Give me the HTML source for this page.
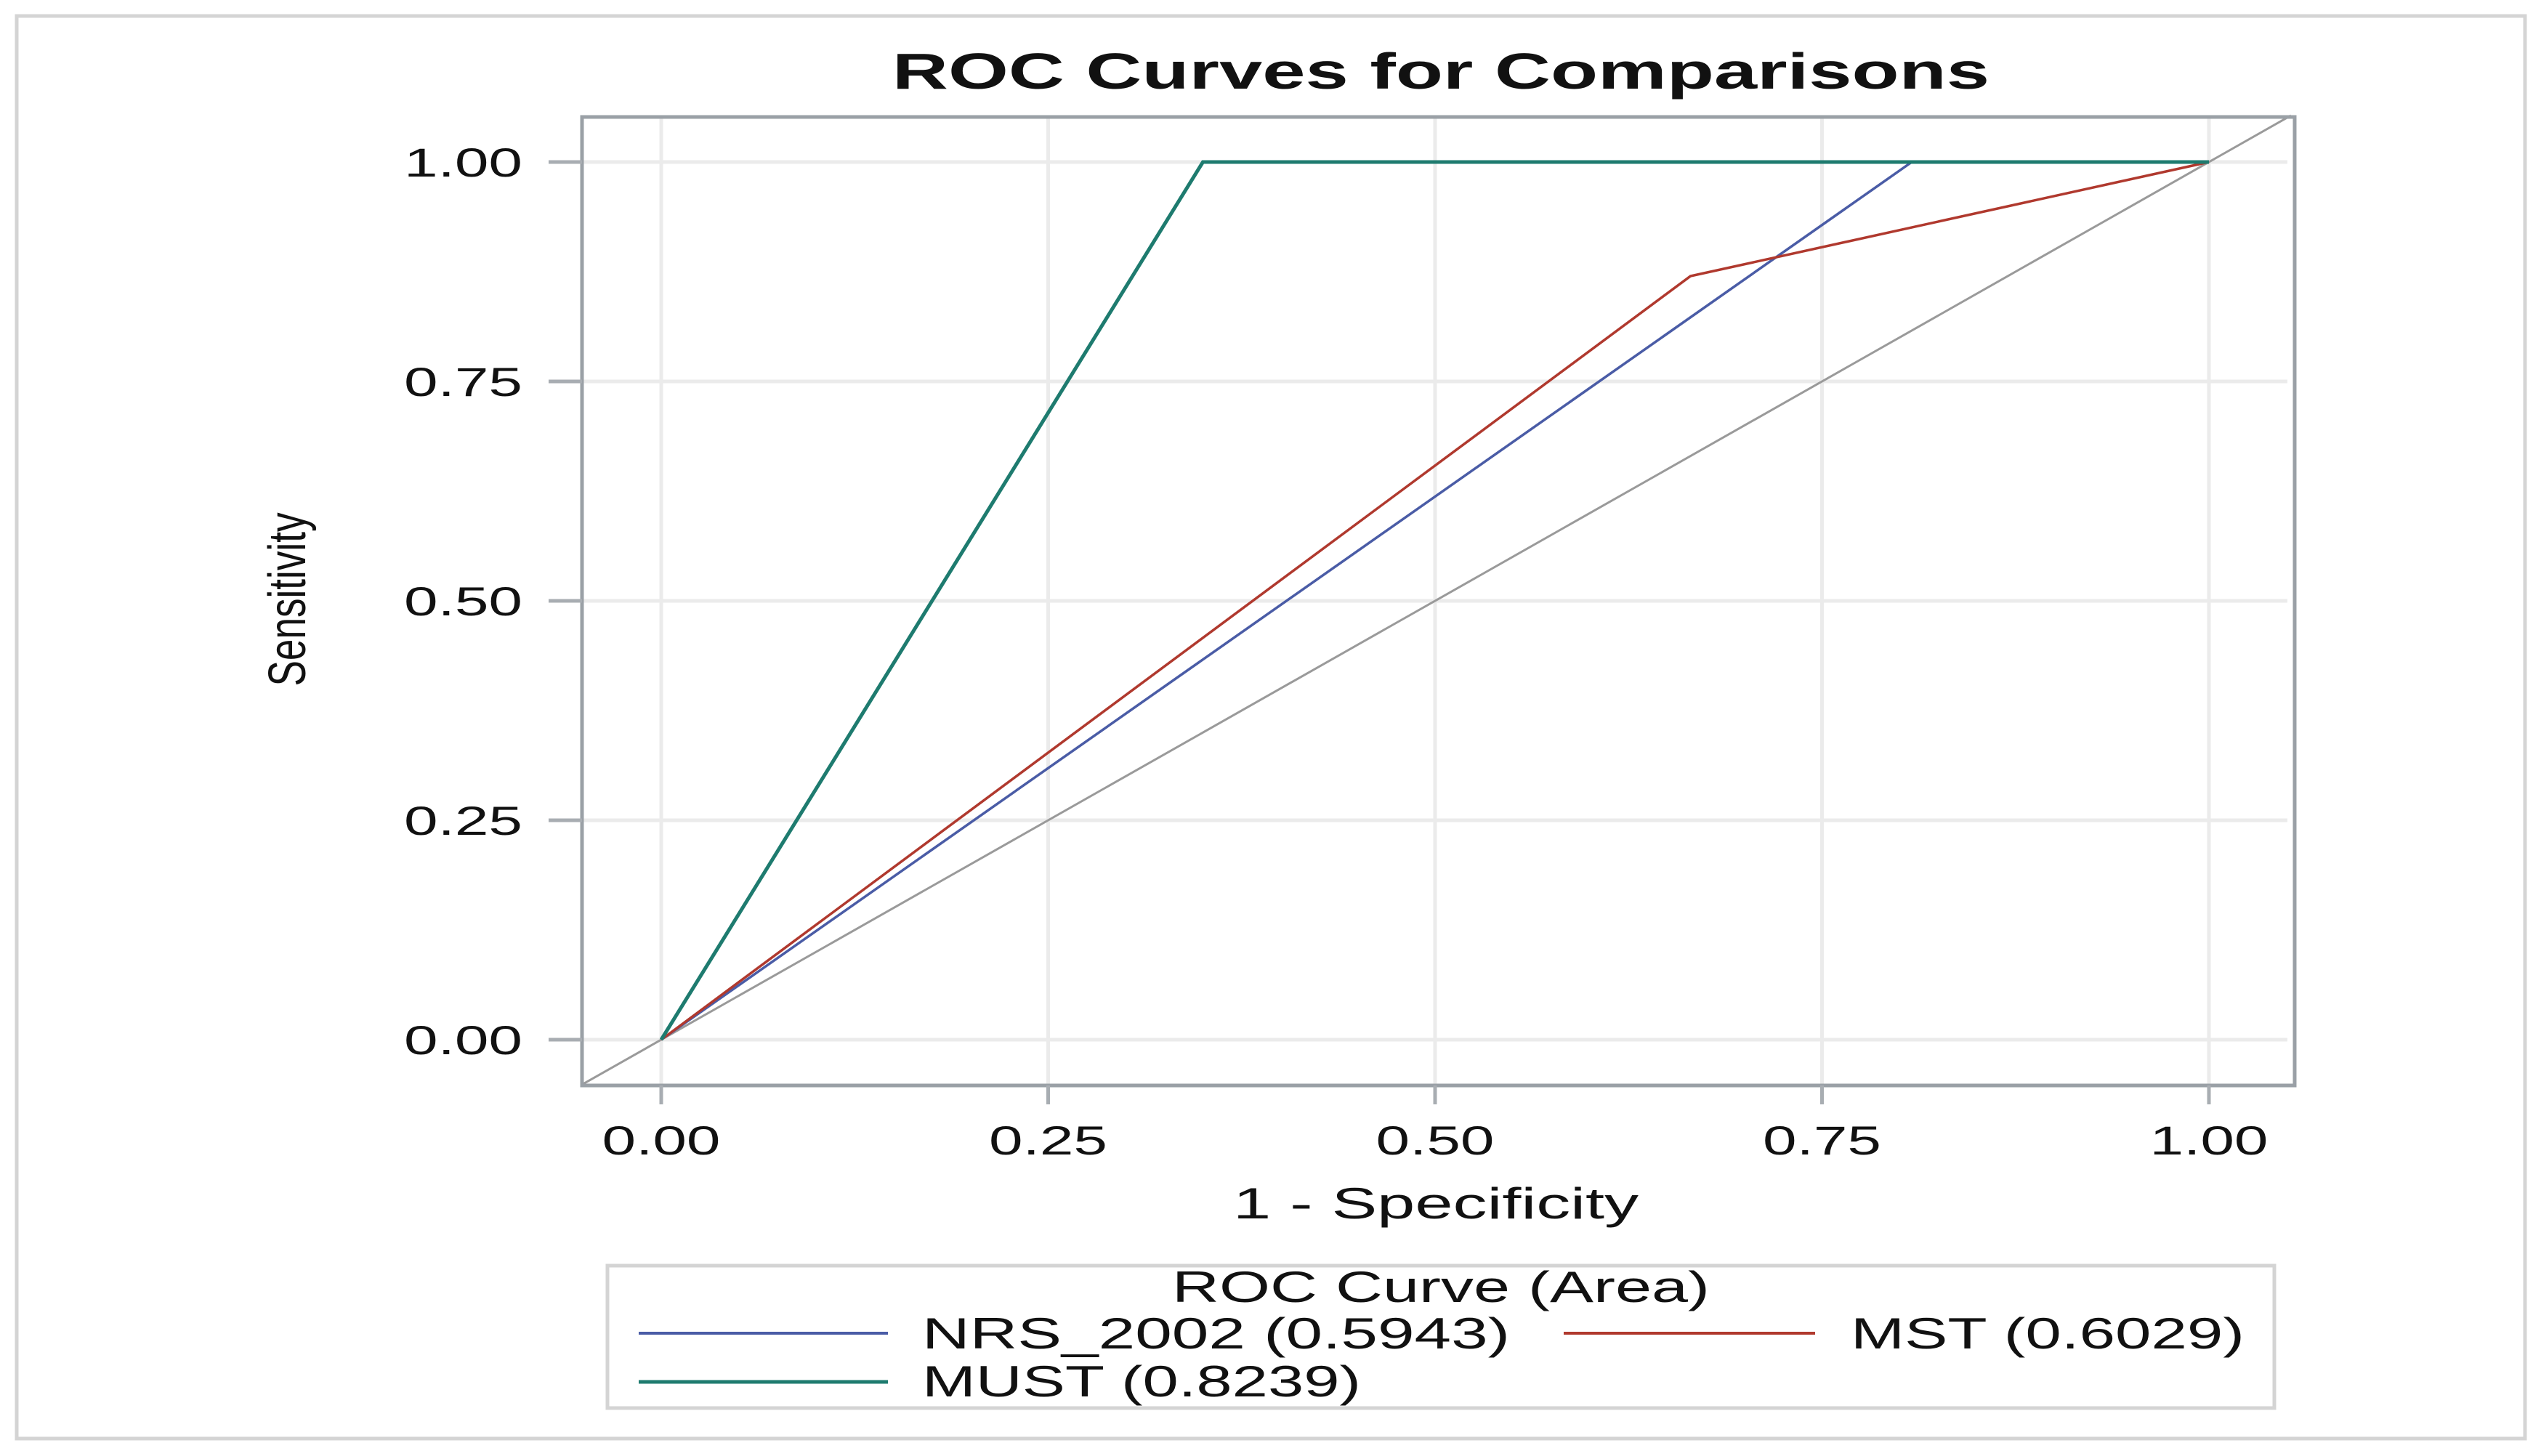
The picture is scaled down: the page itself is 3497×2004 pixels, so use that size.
<!DOCTYPE html>
<html><head><meta charset="utf-8"><style>
html,body{margin:0;padding:0;background:#fff;}
svg{display:block;}
text{font-family:"Liberation Sans",sans-serif;fill:#111;}
</style></head><body>
<svg id="chart" width="3497" height="2004" viewBox="0 0 3497 2004" xmlns="http://www.w3.org/2000/svg">
<rect x="23" y="22" width="3452" height="1958" fill="#fff" stroke="#d4d4d4" stroke-width="5"/>
<text x="1983" y="122" text-anchor="middle" font-size="70" font-weight="bold" textLength="1510" lengthAdjust="spacingAndGlyphs">ROC Curves for Comparisons</text>
<g id="grid"></g>
<g id="series"></g>
<rect x="801" y="161" width="2357" height="1333" fill="none" stroke="#9aa0a6" stroke-width="5"/>
<g id="ticks"></g>
<text transform="translate(420,825) rotate(-90)" text-anchor="middle" font-size="72" textLength="239" lengthAdjust="spacingAndGlyphs">Sensitivity</text>
<text x="1976" y="1677" text-anchor="middle" font-size="60" textLength="558" lengthAdjust="spacingAndGlyphs">1 - Specificity</text>
<g>
<rect x="836" y="1742" width="2294" height="196" fill="#fff" stroke="#d4d4d4" stroke-width="5"/>
<text x="1983" y="1792" text-anchor="middle" font-size="60" textLength="740" lengthAdjust="spacingAndGlyphs">ROC Curve (Area)</text>
<line x1="879" y1="1835" x2="1222" y2="1835" stroke="#4a5ca6" stroke-width="4"/>
<text x="1269" y="1856" font-size="60" textLength="809" lengthAdjust="spacingAndGlyphs">NRS_2002 (0.5943)</text>
<line x1="2152" y1="1835" x2="2498" y2="1835" stroke="#b0392e" stroke-width="4"/>
<text x="2547" y="1856" font-size="60" textLength="542" lengthAdjust="spacingAndGlyphs">MST (0.6029)</text>
<line x1="879" y1="1902" x2="1222" y2="1902" stroke="#1e7b6f" stroke-width="5"/>
<text x="1269" y="1922" font-size="60" textLength="604" lengthAdjust="spacingAndGlyphs">MUST (0.8239)</text>
</g>
</svg>
<script>
const ticks = [0, 0.25, 0.5, 0.75, 1];
const tickLabels = ["0.00", "0.25", "0.50", "0.75", "1.00"];
const nrsX = [0, 0.808, 1];
const nrsY = [0, 1, 1];
const mstX = [0, 0.665, 1];
const mstY = [0, 0.870, 1];
const mustX = [0, 0.350, 1];
const mustY = [0, 1, 1];
const refX = [-0.051, 1.053];
const refY = [-0.051, 1.053];

const NS = "http://www.w3.org/2000/svg";
const X0 = 910, X1 = 3040, Y0 = 1431, Y1 = 223;
function sx(v){ return X0 + v * (X1 - X0); }
function sy(v){ return Y0 - v * (Y0 - Y1); }
function mk(tag, attrs, parent){
  const e = document.createElementNS(NS, tag);
  for (const k in attrs) e.setAttribute(k, attrs[k]);
  parent.appendChild(e);
  return e;
}
const grid = document.getElementById('grid');
const tk = document.getElementById('ticks');
const ser = document.getElementById('series');
ticks.forEach((t, i) => {
  const gv = mk('line', {x1: sx(t), x2: sx(t), y1: 163, y2: 1492, stroke: '#ebebeb', 'stroke-width': 5}, grid);
  
  
  const gh = mk('line', {x1: 803, x2: 3148, y1: sy(t), y2: sy(t), stroke: '#ebebeb', 'stroke-width': 5}, grid);
  
  
  const xt = mk('line', {x1: sx(t), x2: sx(t), y1: 1494, y2: 1520, stroke: '#a8adb2', 'stroke-width': 5}, tk);
  
  
  const yt = mk('line', {x1: 755, x2: 801, y1: sy(t), y2: sy(t), stroke: '#a8adb2', 'stroke-width': 5}, tk);
  
  
  const xl = mk('text', {x: sx(t), y: 1589, 'text-anchor': 'middle', 'font-size': 56, textLength: 163, lengthAdjust: 'spacingAndGlyphs'}, tk);
  xl.textContent = tickLabels[i];
  
  
  const yl = mk('text', {x: 719, y: sy(t) + 20, 'text-anchor': 'end', 'font-size': 56, textLength: 163, lengthAdjust: 'spacingAndGlyphs'}, tk);
  yl.textContent = tickLabels[i];
  
  
});
function pts(xs, ys){ return xs.map((x, i) => sx(x) + ',' + sy(ys[i])).join(' '); }
const ref = mk('polyline', {points: pts(refX, refY), fill: 'none', stroke: '#9a9a9a', 'stroke-width': 3}, ser);


const l1 = mk('polyline', {points: pts(nrsX, nrsY), fill: 'none', stroke: '#4a5ca6', 'stroke-width': 3.5}, ser);


const l2 = mk('polyline', {points: pts(mstX, mstY), fill: 'none', stroke: '#b0392e', 'stroke-width': 3.5}, ser);


const l3 = mk('polyline', {points: pts(mustX, mustY), fill: 'none', stroke: '#1e7b6f', 'stroke-width': 5}, ser);


</script>
</body></html>
